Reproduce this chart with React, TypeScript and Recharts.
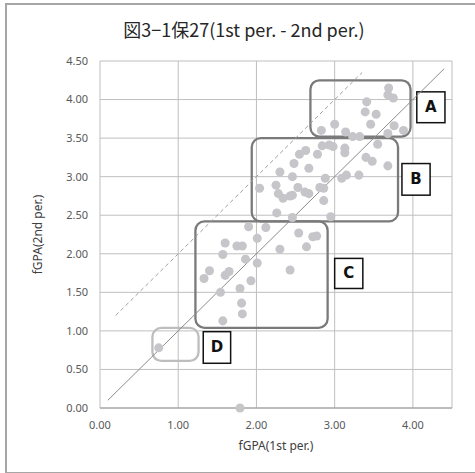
import { ScatterChart, Scatter, XAxis, YAxis, ZAxis, CartesianGrid, ReferenceLine, ReferenceArea, Label } from 'recharts';

// fGPA of each student, 1st period (x) and 2nd period (y)
const fgpa1st = [
    3.69, 3.68, 3.75, 3.41, 3.39, 3.53, 3.46, 3.00, 2.83, 3.14, 3.23, 3.32, 3.76, 3.88, 3.68, 3.55,
    2.93, 2.84, 2.98, 3.13, 3.13, 2.63, 2.55, 2.78, 3.40, 3.48, 3.68, 2.48, 2.67, 2.30, 2.46, 2.88,
    3.15, 3.09, 3.31, 2.04, 2.25, 2.53, 2.81, 2.86, 2.28, 2.34, 2.43, 2.46, 2.62, 2.67, 2.86, 2.26,
    2.46, 2.95, 1.90, 2.12, 2.01, 2.54, 2.72, 2.77, 1.60, 1.75, 1.82, 2.30, 2.64, 1.57, 1.86, 2.01,
    2.43, 1.40, 1.60, 1.65, 1.93, 1.33, 1.79, 1.54, 1.81, 1.82, 1.57, 0.75, 1.79,
];
const fgpa2nd = [
    4.15, 4.06, 4.02, 3.97, 3.84, 3.81, 3.68, 3.68, 3.60, 3.58, 3.52, 3.52, 3.66, 3.60, 3.56, 3.42,
    3.41, 3.40, 3.39, 3.37, 3.31, 3.34, 3.29, 3.29, 3.25, 3.20, 3.14, 3.17, 3.11, 3.06, 3.00, 2.98,
    3.02, 2.98, 3.02, 2.85, 2.89, 2.86, 2.86, 2.85, 2.78, 2.72, 2.75, 2.76, 2.80, 2.78, 2.69, 2.53,
    2.47, 2.48, 2.35, 2.34, 2.20, 2.27, 2.22, 2.23, 2.14, 2.10, 2.10, 2.06, 2.09, 1.99, 1.93, 1.88,
    1.79, 1.78, 1.72, 1.77, 1.65, 1.68, 1.55, 1.50, 1.36, 1.22, 1.13, 0.78, 0.00,
];

const xTicks = [0, 1, 2, 3, 4];
const yTicks = [0, 0.5, 1, 1.5, 2, 2.5, 3, 3.5, 4, 4.5];

// group outlines (data units) and their letter tags
const groupNames = ['A', 'B', 'C', 'D'];
const groupX = [[2.69, 3.97], [1.94, 3.81], [1.22, 2.91], [0.67, 1.26]];
const groupY = [[3.52, 4.25], [2.42, 3.50], [1.04, 2.42], [0.61, 1.04]];
const tagX = [[4.05, 4.41], [3.86, 4.22], [3.00, 3.36], [1.32, 1.67]];
const tagY = [[3.70, 4.10], [2.76, 3.17], [1.55, 1.94], [0.58, 0.99]];

const points = fgpa1st.map((x, i) => ({ x, y: fgpa2nd[i] }));

const tickStyle = { fill: '#595959', fontSize: 11, fontFamily: 'Noto Sans' };

export default function App() {
    return (
        <div style={{ position: 'absolute', left: 0, top: 0, width: 475, height: 473, background: '#fff', overflow: 'hidden' }}>
            {/* outer frame */}
            <div style={{ position: 'absolute', left: 5, top: 3, width: 480, height: 467, border: '2px solid #a6a6a6', borderRight: 'none' }} />
            <div style={{ position: 'absolute', left: 0, top: 16, width: 488, textAlign: 'center', fontFamily: '"Noto Sans CJK JP"', fontSize: 18, color: '#262626', lineHeight: '26px' }}>
                図3−1保27(1st per. - 2nd per.)
            </div>
            <ScatterChart width={475} height={473} margin={{ top: 61, right: 23, bottom: 35, left: 0 }} style={{ position: 'absolute', left: 0, top: 0 }}>
                <CartesianGrid stroke="#bfbfbf" strokeWidth={1} />
                <XAxis
                    type="number"
                    dataKey="x"
                    domain={[0, 4.5]}
                    ticks={xTicks}
                    interval={0}
                    tickFormatter={(v: number) => v.toFixed(2)}
                    tick={tickStyle}
                    tickLine={false}
                    tickSize={0}
                    tickMargin={13}
                    height={30}
                    axisLine={{ stroke: '#9a9a9a' }}
                >
                    <Label value="fGPA(1st per.)" position="bottom" offset={3} style={{ fill: '#404040', fontSize: 12, fontFamily: 'Noto Sans' }} />
                </XAxis>
                <YAxis
                    type="number"
                    dataKey="y"
                    domain={[0, 4.5]}
                    ticks={yTicks}
                    interval={0}
                    tickFormatter={(v: number) => v.toFixed(2)}
                    tick={tickStyle}
                    tickLine={false}
                    tickSize={0}
                    tickMargin={12}
                    width={100}
                    axisLine={false}
                >
                    <Label
                        content={() => (
                            <text x={37} y={234.5} transform="rotate(-90, 37, 234.5)" textAnchor="middle" dominantBaseline="central" fill="#404040" fontSize={12} fontFamily="Noto Sans">
                                fGPA(2nd per.)
                            </text>
                        )}
                    />
                </YAxis>
                <ZAxis range={[46, 46]} />

                <Scatter data={points} fill="#c6c6ca" isAnimationActive={false} />

                {/* y = x and y = x + 1 guides */}
                <ReferenceLine segment={[{ x: 0.1, y: 0.1 }, { x: 4.4, y: 4.4 }]} stroke="#8c8c8c" strokeWidth={1} />
                <ReferenceLine segment={[{ x: 0.2, y: 1.2 }, { x: 3.35, y: 4.35 }]} stroke="#a0a0a0" strokeWidth={1} strokeDasharray="4 3" />

                {groupNames.map((g, i) => (
                    <ReferenceArea
                        key={'box' + g}
                        x1={groupX[i][0]}
                        x2={groupX[i][1]}
                        y1={groupY[i][0]}
                        y2={groupY[i][1]}
                        shape={(p: any) => (
                            <rect x={p.x} y={p.y} width={p.width} height={p.height} rx={9} fill="none" stroke={g === 'D' ? '#bdbdbd' : '#7a7a7a'} strokeWidth={2.3} />
                        )}
                    />
                ))}
                {groupNames.map((g, i) => (
                    <ReferenceArea
                        key={'tag' + g}
                        x1={tagX[i][0]}
                        x2={tagX[i][1]}
                        y1={tagY[i][0]}
                        y2={tagY[i][1]}
                        shape={(p: any) => (
                            <g>
                                <rect x={p.x} y={p.y} width={p.width} height={p.height} fill="#fff" stroke="#111" strokeWidth={1.5} />
                                <text x={p.x + p.width / 2} y={p.y + p.height / 2} textAnchor="middle" dominantBaseline="central" fontFamily="DejaVu Sans" fontWeight="bold" fontSize={15} fill="#111">
                                    {g}
                                </text>
                            </g>
                        )}
                    />
                ))}
            </ScatterChart>
        </div>
    );
}
